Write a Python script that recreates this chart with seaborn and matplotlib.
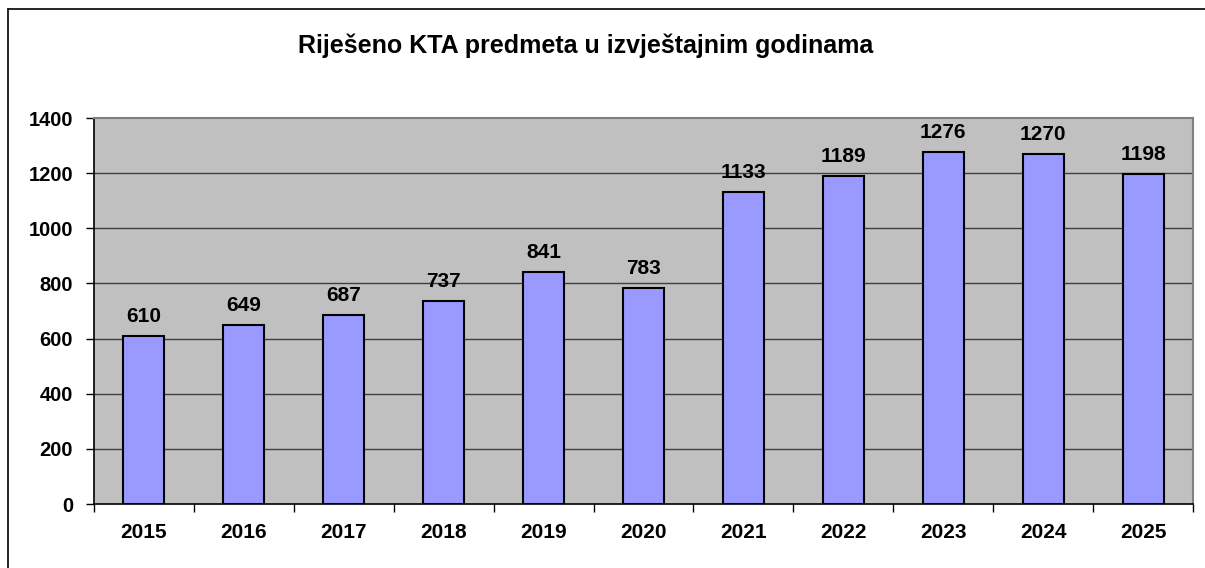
import numpy as np
import pandas as pd
import matplotlib
matplotlib.use("Agg")
import matplotlib.pyplot as plt
import seaborn as sns
from matplotlib.lines import Line2D

# podaci
godine = ['2015', '2016', '2017', '2018', '2019', '2020', '2021', '2022', '2023', '2024', '2025']
rijeseno = [610, 649, 687, 737, 841, 783, 1133, 1189, 1276, 1270, 1198]
y_ticks = [0, 200, 400, 600, 800, 1000, 1200, 1400]
naslov = 'Riješeno KTA predmeta u izvještajnim godinama'


def main():
    sns.set_style('white')
    plt.rcParams['font.family'] = ['Liberation Sans', 'DejaVu Sans']
    plt.rcParams['text.color'] = 'black'
    plt.rcParams['xtick.color'] = 'black'
    plt.rcParams['ytick.color'] = 'black'

    df = pd.DataFrame({'Godina': godine, 'Rijeseno': rijeseno})

    fig = plt.figure(figsize=(12.05, 5.68), dpi=100)
    ax = fig.add_axes([94 / 1205, 1 - 504 / 568, (1193 - 94) / 1205, (504 - 118) / 568])
    ax.set_facecolor('#C0C0C0')

    sns.barplot(data=df, x='Godina', y='Rijeseno', color='#9999FF',
                edgecolor='black', linewidth=1.5, width=0.41, saturation=1, ax=ax, zorder=3)

    # horizontalne linije mreze
    for yv in y_ticks[1:-1]:
        ax.axhline(yv, color='#404040', linewidth=1, zorder=1)

    for p, v in zip(ax.patches, rijeseno):
        ax.annotate(str(v), (p.get_x() + p.get_width() / 2, p.get_height()),
                    xytext=(0, 7), textcoords='offset points', ha='center', va='bottom',
                    fontsize=15, fontweight='bold', color='black')

    ax.set_ylim(0, 1400)
    ax.set_xlim(-0.5, len(godine) - 0.5)
    ax.set_yticks(y_ticks)
    ax.set_yticklabels([str(t) for t in y_ticks], fontsize=14.5, fontweight='bold')
    ax.set_xticks(range(len(godine)))
    ax.set_xticklabels(godine, fontsize=15, fontweight='bold')
    ax.set_xticks(np.arange(-0.5, len(godine), 1), minor=True)
    ax.tick_params(axis='x', which='major', length=0, pad=14)
    ax.tick_params(axis='x', which='minor', length=6, width=1, color='black', direction='out', bottom=True)
    ax.tick_params(axis='y', length=6, width=1, color='black', direction='out', left=True, pad=9)
    ax.set_xlabel('')
    ax.set_ylabel('')

    for s in ['left', 'bottom']:
        ax.spines[s].set_color('black')
        ax.spines[s].set_linewidth(1.2)
    for s in ['top', 'right']:
        ax.spines[s].set_color('#808080')
        ax.spines[s].set_linewidth(1.5)
        ax.spines[s].set_visible(True)

    fig.text(586 / 1205, 1 - 46 / 568, naslov, ha='center', va='center',
             fontsize=18, fontweight='bold', color='black')

    # okvir grafikona (lijevo i gore)
    fig.add_artist(Line2D([8 / 1205, 8 / 1205], [0, 1 - 9 / 568], color='black', linewidth=1.2,
                          transform=fig.transFigure))
    fig.add_artist(Line2D([8 / 1205, 1], [1 - 9 / 568, 1 - 9 / 568], color='black', linewidth=1.2,
                          transform=fig.transFigure))

    fig.savefig('out.png', dpi=100)
    plt.close(fig)


if __name__ == "__main__":
    main()
